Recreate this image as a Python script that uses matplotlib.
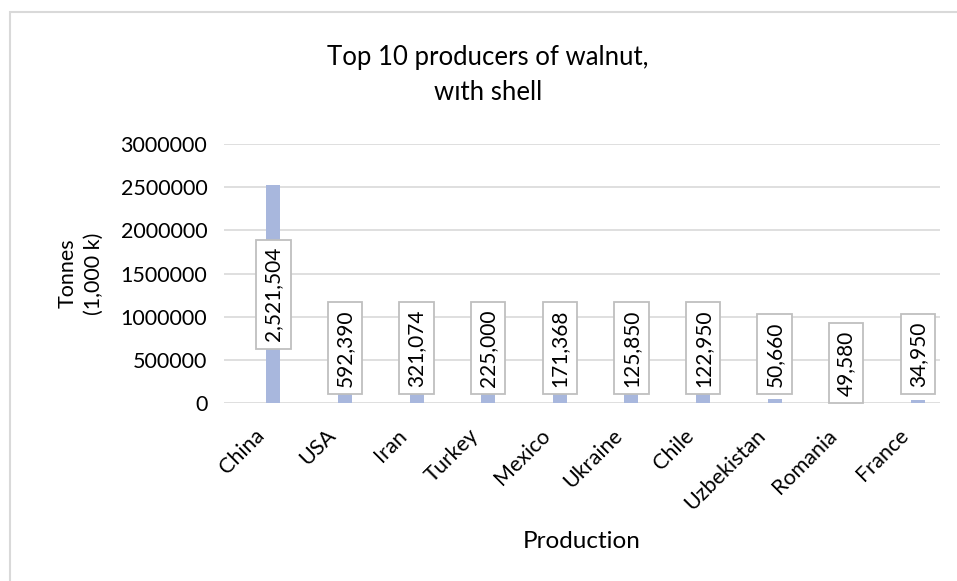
import matplotlib.pyplot as plt
from matplotlib.patches import Rectangle
from matplotlib.transforms import ScaledTranslation

countries = ["China", "USA", "Iran", "Turkey", "Mexico", "Ukraine", "Chile",
             "Uzbekistan", "Romania", "France"]
tonnes = [2521504, 592390, 321074, 225000, 171368, 125850, 122950,
          50660, 49580, 34950]
yticks = [0, 500000, 1000000, 1500000, 2000000, 2500000, 3000000]

# where the value boxes sit (data units), moved by hand like in the original
label_y = [1260752, 638000, 638000, 638000, 638000, 638000, 638000,
           565000, 463000, 565000]

plt.rcParams['font.family'] = ['Lato', 'DejaVu Sans']

W, H = 957, 581
fig = plt.figure(figsize=(W / 100, H / 100), dpi=100)

# chart frame
fig.patches.append(Rectangle((10 / W, -0.5), 2, 1.5 - 12 / H,
                             transform=fig.transFigure, fill=False,
                             edgecolor='#D9D9D9', linewidth=1.5))

ax = fig.add_axes([224 / W, (H - 403) / H, (940 - 224) / W, (403 - 144) / H])

x = list(range(len(countries)))
off = 0.19
ax.bar([i + off for i in x], tonnes, width=0.195, color='#A8B7DD', zorder=2)

for i, v in enumerate(tonnes):
    ax.text(i + off, label_y[i], f"{v:,}", rotation=90, ha='center', va='center',
            fontsize=15, zorder=4,
            bbox=dict(boxstyle='square,pad=0.35', facecolor='white',
                      edgecolor='#BFBFBF', linewidth=1.3))

ax.set_xlim(-0.5, len(countries) - 0.5)
ax.set_ylim(0, 3000000)
ax.set_yticks(yticks)
ax.set_yticklabels([str(t) for t in yticks], fontsize=15.5)
ax.set_xticks(x)
ax.set_xticklabels(countries, rotation=45, ha='right', va='top',
                   rotation_mode='anchor', fontsize=15.5)
ax.tick_params(length=0, pad=12)
ax.tick_params(axis='x', pad=16)
shift = ScaledTranslation(-6 / 100, 0, fig.dpi_scale_trans)
for lbl in ax.get_xticklabels():
    lbl.set_transform(lbl.get_transform() + shift)
ax.grid(axis='y', color='#D9D9D9', linewidth=1.2, zorder=0)
ax.set_axisbelow(True)
for s in ax.spines.values():
    s.set_visible(False)

ax.set_ylabel("Tonnes\n(1,000 k)", fontsize=15.5, linespacing=1.35)
ax.yaxis.set_label_coords(-0.168, 0.5)
ax.set_xlabel("Production", fontsize=17.5)
ax.xaxis.set_label_coords(0.5, -0.495)

fig.text(0.51, 1 - 75 / H, "Top 10 producers of walnut,\nwıth shell",
         ha='center', va='center', fontsize=18.5, linespacing=1.45)

fig.savefig("out.png", dpi=100)
